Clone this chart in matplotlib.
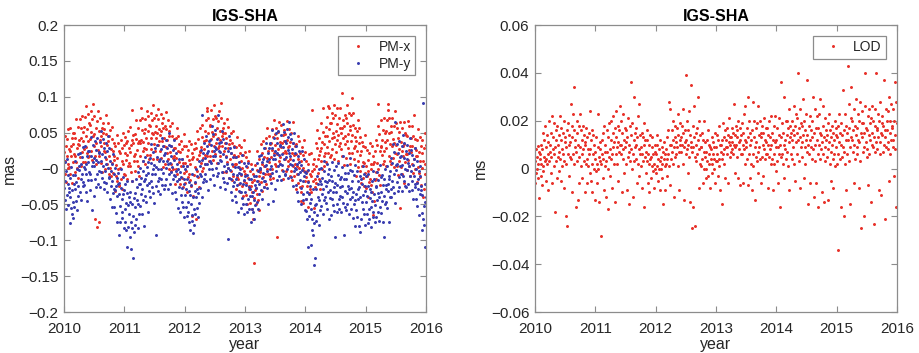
import numpy as np
import matplotlib
matplotlib.use("Agg")
import matplotlib.pyplot as plt
from matplotlib.ticker import FuncFormatter

plt.rcParams["font.family"] = ["Liberation Sans", "DejaVu Sans"]

# 12 samples per month, Jan 2010 .. Dec 2015
# PM-x, PM-y in 0.001 mas
pmx = [
    # 2010
    23, -7, 46, 10, 32, -19, 17, 41, 1, 55, 6, 27,
    2, 25, 56, -7, 31, 17, 42, -20, 34, 49, 9, 20,
    50, -5, 18, 43, 69, 9, 28, 1, 58, 34, -13, 40,
    33, 69, 16, 42, 4, 56, 73, 23, 9, 39, 51, 27,
    58, 9, 72, 45, 30, 87, 22, 55, 76, 39, 16, 64,
    17, 61, 41, 80, 25, 51, 69, 12, 46, 90, 32, 73,
    48, 18, -70, 35, 57, 6, -82, 66, 26, 80, -75, 52,
    17, 40, 71, 8, 46, 32, 57, -5, 49, 64, 24, 35,
    55, 0, 23, 48, 74, 14, 33, 6, 63, 39, -8, 45,
    18, 54, 1, 27, -11, 41, 58, 8, -6, 24, 36, 12,
    18, -31, 32, 5, -10, 47, -18, 15, 36, -1, -24, 24,
    -23, 21, 1, 40, -15, 11, 29, -28, 6, 50, -8, 33,
    # 2011
    21, -9, 44, 12, 35, -15, 19, 38, 3, 52, 8, 29,
    4, 23, 58, -5, 33, 82, 40, -18, 36, 47, 11, 18,
    48, -3, 20, 41, 67, 11, 26, 3, 56, 36, -11, 38,
    35, 67, 18, 40, 84, 54, 71, 25, 11, 37, 49, 29,
    55, 6, 69, 42, 27, 80, 19, 52, 73, 36, 13, 61,
    19, 59, 43, 78, 27, 49, 67, 14, 48, 88, 34, 71,
    51, 25, 74, 42, 60, 13, 49, 69, 33, 83, 38, 55,
    24, 47, 76, 15, 53, 39, 64, 2, 56, 71, 31, 42,
    60, 7, 30, 55, 79, 21, 40, 13, 68, 46, -1, 52,
    23, 59, 6, 32, -4, 46, 63, 15, -1, 29, 41, 17,
    28, -21, 42, 15, 0, 57, -8, 25, 46, 9, -14, 34,
    -21, 23, 3, 38, -13, 13, 27, -26, 8, 48, -6, 31,
    # 2012
    8, -20, 31, -3, 17, -32, 4, 26, -12, 38, -7, 12,
    -16, 7, 34, -25, 13, -66, 22, -38, 16, 27, -9, 2,
    35, -20, -70, 28, 52, -4, 13, -12, 41, 19, -26, 25,
    23, 57, 8, 30, -4, 44, 61, 15, 1, 27, 39, 19,
    53, 6, 67, 40, 85, 80, 17, 50, 71, 34, 11, 59,
    17, 61, 41, 82, 25, 51, 69, 12, 46, 88, 32, 73,
    48, 20, 71, 35, 57, 8, 42, 66, 28, 80, 31, 52,
    17, 40, 71, 92, 46, 32, 57, -5, 49, 64, 24, 35,
    50, -5, 18, 43, 69, 9, 28, 1, 58, 34, -13, 40,
    13, 49, -4, 22, -16, 36, 53, 3, -11, 19, 31, 7,
    16, -28, 30, 7, -12, 44, -15, 17, 33, 2, -22, 21,
    -33, 11, -9, 30, -25, 1, 19, -38, -4, 40, -18, 23,
    # 2013
    -7, -37, 16, -20, 2, -49, -13, 11, -29, 25, -24, -3,
    -48, -25, 6, -57, -19, -33, -8, -70, -16, -132, -41, -30,
    5, -50, -27, -2, 24, -36, -17, -44, 13, -11, -58, -5,
    -2, 34, -19, 7, -31, 21, 38, -12, -26, 4, 16, -8,
    28, -21, 42, 15, 0, 57, -8, 25, 46, 9, -14, 34,
    -8, 36, 16, 55, 0, 26, 44, -13, 21, 68, 7, 48,
    33, 3, 56, 20, 42, -95, 27, 51, 11, 65, 16, 37,
    7, 30, 61, -2, 36, 22, 47, -15, 39, 54, 14, 25,
    48, -3, 21, 40, 66, 11, 30, 3, 55, 32, -10, 37,
    13, 49, -4, 22, -16, 36, 65, 3, -11, 19, 31, 7,
    20, -29, 34, 3, -8, 45, -20, 13, 38, 1, -26, 22,
    -33, 11, -45, 30, -25, 1, 19, -48, -4, 40, -18, 23,
    # 2014
    -12, -42, 11, -25, -3, -54, -18, 6, -34, 20, -29, -8,
    -33, -10, 21, 82, -4, -18, 7, -55, -1, 14, -26, -15,
    35, -20, 3, 28, 54, -6, 13, -14, 43, 19, -28, 25,
    28, 64, 11, 37, -1, 51, 85, 18, 4, 34, 46, 22,
    58, 9, 72, 45, 30, 87, 22, 55, 84, 39, 16, 64,
    19, 63, 43, 78, 27, 49, 71, 14, 44, 88, 34, 75,
    53, 23, 85, 40, 62, 11, 47, 71, 31, 85, 36, 57,
    27, 50, 105, 18, 56, 42, 67, 5, 59, 74, 34, 45,
    70, 15, 38, 63, 89, 29, 48, 21, 78, 54, 7, 60,
    38, 74, 21, 47, 98, 61, 78, 28, 14, 44, 56, 32,
    38, -11, 52, 25, 10, 67, 2, 35, 56, 19, -4, 44,
    -20, 24, 3, 37, -13, 9, 31, -25, 8, 47, -6, 30,
    # 2015
    3, -27, 26, -10, 12, -39, -3, 21, -19, 35, -14, 7,
    -23, 0, 31, -32, 6, -65, 17, -45, 9, 24, -16, -5,
    40, -15, 8, 33, 59, -1, 90, -9, 48, 24, -23, 30,
    31, 67, 19, 40, 6, 54, 71, 25, 11, 37, 49, 29,
    53, 4, 67, 40, 90, 82, 17, 50, 71, 34, 11, 59,
    7, 51, 31, 70, 15, 41, 59, 2, 36, 80, 22, 63,
    33, 3, 56, 20, 42, -9, 27, 51, 11, 65, -55, 37,
    2, 25, 56, -7, 31, 17, 65, -20, 34, 49, 9, 20,
    47, -2, 20, 45, 66, 12, 26, 4, 60, 31, -10, 42,
    23, 59, 6, 32, -6, 46, 75, 13, -1, 29, 41, 17,
    26, -19, 40, 17, 2, 55, -6, 23, 44, 11, -12, 32,
    -23, 21, 1, 40, -40, 11, 29, -28, 6, 50, -8, 33,
]

pmy = [
    # 2010
    -27, 9, -44, -18, -56, -4, 13, -37, -51, -21, -9, -33,
    -27, -76, -13, -40, -55, 2, -63, -30, -9, -46, -69, -21,
    -53, -9, -29, 10, -45, -19, -1, -58, -24, 20, -38, 3,
    -2, -32, 21, -15, 7, -44, -8, 16, -24, 30, -19, 2,
    -23, 0, 31, -32, 6, -8, 17, -45, 9, 24, -16, -5,
    25, -30, -7, 18, 44, -16, 3, -58, 33, 9, -38, 15,
    3, 39, -14, 12, -26, 26, 43, -7, -21, 9, 21, -3,
    23, -26, 37, 10, -5, 52, -13, 20, 41, 4, -19, 29,
    -28, 16, -4, 35, -20, 6, 24, -33, 1, 45, -13, 28,
    -12, -42, 11, -25, -3, -54, -18, 6, -34, 20, -29, -8,
    -53, -30, 1, -62, -24, -38, -13, -75, -21, -6, -92, -35,
    -20, -75, -52, -27, -1, -61, -42, -69, -12, -36, -83, -30,
    # 2011
    -57, -21, -74, -48, -86, -34, -17, -110, -81, -51, -39, -63,
    -47, -96, -33, -112, -75, -18, -83, -50, -125, -66, -89, -41,
    -78, -34, -54, -15, -70, -44, -26, -83, -49, -5, -63, -22,
    -22, -52, 1, -35, -13, -64, -28, -4, -44, 10, -80, -18,
    -38, -15, 16, -47, -9, -23, 2, -60, -6, 9, -31, -20,
    15, -40, -17, 8, 34, -26, -7, -34, 23, -1, -48, 5,
    -7, 29, -24, 2, -92, 16, 33, -17, -31, -1, 11, -13,
    13, -36, 27, 0, -15, 42, -23, 10, 31, -6, -29, 19,
    -23, 21, 1, 40, -15, 11, 29, -28, 6, 50, -8, 33,
    8, -22, 31, -5, 17, -34, 2, 26, -14, 40, -9, 12,
    -33, -10, 21, -42, -4, -18, 7, -55, -1, 14, -26, -15,
    -5, -60, -37, -12, 14, -46, -27, -54, 3, -21, -68, -15,
    # 2012
    -37, -1, -54, -28, -66, -14, 3, -47, -61, -31, -19, -75,
    -37, -86, -23, -50, -65, -8, -73, -40, -90, -56, -79, -31,
    -63, -19, -39, 0, -55, -29, -11, -68, -34, 10, -48, -7,
    3, -27, 26, -10, 12, -39, 75, 21, -19, 35, -14, 7,
    -8, 15, 46, -17, 21, 7, 32, -30, 24, 39, -1, 10,
    40, -15, 8, 33, 59, -1, 18, -9, 48, 24, -23, 30,
    18, 54, 1, 27, -11, 41, 75, 8, -6, 24, 36, 12,
    23, -26, 37, 10, -5, 52, -13, 20, 41, 4, -19, 29,
    -28, 16, -4, 35, -20, 6, 24, -98, 1, 45, -13, 28,
    -2, -32, 21, -15, 7, -44, -8, 16, -24, 30, -19, 2,
    -38, -15, 16, -47, -9, -23, 2, -60, -6, 9, -31, -20,
    0, -55, -32, -7, 19, -41, -22, -49, 8, -16, -63, -10,
    # 2013
    -32, 4, -49, -23, -61, -9, 8, -42, -56, -26, -14, -38,
    -29, -74, -15, -38, -57, 0, -61, -32, -11, -44, -71, -23,
    -51, -11, -27, 8, -47, -17, -3, -56, -22, 18, -36, 1,
    0, -30, 19, -13, 9, -42, -6, 14, -26, 28, -17, 4,
    -18, 5, 36, -27, 11, -3, 22, -50, 14, 29, -11, 0,
    35, -20, 3, 28, 54, -6, 13, -45, 43, 19, -28, 25,
    13, 49, -4, 22, -16, 36, 53, 3, -11, 19, 31, 7,
    33, -16, 47, 20, 5, 62, -3, 30, 51, 14, -9, 39,
    -8, 36, 16, 55, 0, 26, 44, -13, 21, 65, 7, 48,
    18, -12, 41, 5, 27, -24, 12, 36, -4, 50, 1, 22,
    -23, 0, 31, -32, 6, -8, 17, -45, 9, 24, -16, -5,
    5, -50, -27, -2, 24, -36, -17, -44, 13, -11, -58, -5,
    # 2014
    -42, -6, -59, -33, -71, -19, -2, -110, -66, -36, -24, -48,
    -57, -106, -43, -70, -85, -28, -93, -60, -135, -76, -125, -51,
    -73, -29, -49, -10, -65, -39, -21, -78, -44, 0, -58, -17,
    -22, -52, 1, -35, -13, -64, -28, -4, -44, 10, -39, -18,
    -48, -25, 6, -57, -19, -33, -8, -70, -16, -1, -41, -30,
    -10, -65, -42, -17, 9, -51, -32, -59, -2, -26, -95, -20,
    -32, 4, -49, -23, -61, -9, 8, -42, -56, -26, -14, -38,
    -12, -61, 2, -25, -40, 17, -48, -15, -92, -31, -54, -6,
    -58, -14, -34, 5, -50, -24, -6, -63, -29, 15, -43, -2,
    -27, -57, -4, -40, -18, -69, -33, -9, -49, 5, -44, -80,
    -58, -35, -4, -67, -29, -43, -18, -80, -26, -11, -88, -40,
    -15, -70, -47, -22, 4, -56, -37, -64, -7, -31, -78, -25,
    # 2015
    -47, -11, -64, -38, -76, -24, -7, -57, -71, -41, -29, -53,
    -32, -81, -18, -45, -60, -3, -68, -35, -14, -51, -74, -26,
    -68, -24, -44, -5, -60, -34, -16, -73, -39, 5, -53, -12,
    -32, -62, -9, -45, -23, -74, -38, -14, -95, 0, -49, -28,
    -46, -23, 4, -55, -21, -31, -10, -75, -14, -3, -39, -28,
    15, -40, -17, 8, 34, -26, -7, -34, 23, 65, -48, 5,
    -2, 34, -19, 7, -31, 21, 38, -12, -26, 4, 16, -8,
    18, -31, 32, 5, -10, 47, -18, 15, 36, -1, -24, 24,
    -26, 14, -2, 33, -22, 8, 22, -31, 3, 42, -11, 26,
    -4, -30, 19, -17, 5, -42, -10, 14, -26, 28, -21, 0,
    -43, -20, 11, -52, -14, -28, -3, -65, -11, 4, -36, -25,
    -30, -85, -62, -37, 92, -71, -52, -79, -22, -46, -110, -40,
]

# LOD in 0.0001 ms
lod = [
    # 2010
    30, -60, 80, -20, 50, 0, 95, -40, 20, 70, -125, 40,
    60, -30, 100, 20, -70, 80, 10, 150, -10, 50, 120, 30,
    180, 40, -50, 90, 20, 140, 60, -90, 110, 30, 200, 70,
    100, -20, 150, 50, 220, -60, 80, 130, 10, 190, 60, -180,
    90, 160, 30, 120, -40, 180, 50, 100, -10, 140, 70, 220,
    40, 120, -50, 170, 80, 10, 150, 60, -80, 200, 30, 110,
    130, -200, 90, 20, 160, -240, 60, 190, 100, -30, 140, 50,
    110, 270, 40, 180, -100, 130, 60, 230, 20, 160, 340, 90,
    120, -160, 70, 200, 30, 150, -130, 100, 180, 50, -60, 230,
    90, 10, 160, 60, 120, -40, 180, 80, 30, 140, -100, 100,
    110, 20, 170, 40, -60, 130, 80, 10, 150, 60, 240, -20,
    80, -50, 120, 20, 160, -100, 60, 140, 0, 100, -130, 40,
    # 2011
    70, -10, 130, 20, -60, 90, 230, 0, 50, -140, 110, 30,
    80, -280, 20, 120, 60, -40, 150, 40, 180, -90, 70, 10,
    100, 30, -120, 160, 70, 0, 130, -170, 50, 190, 80, -30,
    120, 40, 200, 60, -80, 150, 90, 220, 20, 110, -140, 170,
    130, 60, 240, 90, 20, 180, 110, -50, 160, 70, 260, 100,
    60, 200, 100, -100, 150, 40, 230, 80, 120, -20, 170, 90,
    110, 20, 160, -90, 130, 50, 210, 70, -150, 100, 180, 30,
    360, 80, 140, 0, 190, 60, -120, 120, 30, 300, 90, 150,
    100, 40, 170, -60, 130, 20, 220, 80, -30, 270, 60, 140,
    90, 10, 150, 60, -80, 130, 30, 190, -160, 100, 50, 120,
    70, -20, 120, 30, 160, -60, 60, 20, 100, -100, 40, 140,
    50, -40, 90, 10, 130, -10, 60, -80, 20, 100, 0, 70,
    # 2012
    60, -20, 100, 10, 140, -50, 40, 80, 0, 120, -90, 30,
    50, 0, 90, -40, 20, 70, -150, 40, 110, 10, -90, 60,
    80, 20, 130, 40, -30, 160, 60, 280, 10, 100, -70, 250,
    100, 40, 160, 70, 200, 20, 120, -120, 90, 180, 50, 130,
    110, 60, 170, 90, 10, 140, 230, 70, -90, 120, 190, 100,
    130, 70, 180, 100, 20, 150, 250, 90, -130, 160, 110, 390,
    120, 60, 200, 80, -20, 160, 100, 240, 50, 140, -140, 90,
    110, 350, -250, 70, 180, 90, -160, 130, 260, 50, -240, 150,
    100, 30, 170, 60, 300, 120, -80, 80, 200, 20, 140, 90,
    90, 10, 150, 40, -60, 120, 70, 200, 0, 110, 50, -40,
    70, 0, 120, 30, 160, -30, 60, 100, 20, -80, 90, 40,
    80, 20, 130, -20, 60, 110, 0, 90, 40, -60, 150, 30,
    # 2013
    90, 30, 140, 60, -30, 120, 40, 180, 10, 100, -90, 70,
    100, 40, -150, 120, 60, 190, 20, 130, 80, -40, 160, 90,
    120, 60, 170, 90, 140, -60, 110, 210, 50, 130, 100, 70,
    130, 80, 170, 110, 60, 150, 270, 100, -20, 140, 90, 180,
    100, 160, 50, 130, -40, 200, 110, 80, 170, -70, 120, 60,
    140, 60, 190, 100, -60, 150, 80, 230, 20, 120, 260, 90,
    110, 40, 170, -70, 130, 300, 60, 200, -40, 100, 150, 20,
    120, -90, 160, 60, 280, 10, 130, 200, -130, 90, 170, 50,
    110, 30, 190, 70, 260, -20, 140, 90, 200, 40, -60, 150,
    130, 50, 180, 100, -30, 150, 80, 210, 40, 120, 170, 60,
    110, 170, 60, 140, -80, 100, 200, 50, 130, 80, 220, 20,
    100, 40, 150, -90, 120, 60, 180, 20, 110, 220, -10, 90,
    # 2014
    120, 30, 170, -60, 90, 210, 60, 140, -160, 100, 360, 50,
    130, 60, 190, 20, 150, 100, 300, -40, 120, 80, 200, 40,
    140, 70, 200, 10, 170, 110, 250, -90, 130, 180, 60, 150,
    120, 200, 40, 160, 90, 260, 20, 140, -50, 180, 110, 230,
    150, 60, 210, 120, 400, 30, 170, -80, 130, 250, 90, 190,
    110, 180, 50, 290, 140, -40, 200, 90, 160, 20, 230, 120,
    140, 70, 370, 100, -150, 180, 60, 220, 120, -60, 160, 90,
    130, 40, 200, 80, 300, -120, 150, 100, 250, 30, 170, -60,
    120, 220, 60, 170, -160, 100, 230, 40, 150, 290, 80, 140,
    110, -100, 180, 60, 260, 130, -140, 90, 210, 30, 160, 120,
    140, 50, 190, 80, -130, 110, 230, 20, 160, 70, -50, 130,
    100, 180, 40, 150, -80, 120, 60, 200, 10, 140, 90, 170,
    # 2015
    130, 20, 180, 60, -340, 110, 230, 40, 150, -160, 100, 190,
    140, 50, 330, 90, -200, 160, 70, 230, 20, 120, -90, 180,
    150, 60, 430, 120, 270, 30, 170, 90, -150, 210, 130, 340,
    120, 200, 70, 160, -60, 250, 100, 180, 40, 290, 140, 90,
    170, 60, 230, 120, -80, 200, 110, 280, 30, 150, -250, 190,
    130, 240, 70, 190, -200, 150, 90, 260, 400, 110, 170, 50,
    160, 80, 220, -70, 140, 250, 60, 190, 120, -140, 210, 100,
    150, 260, 90, 200, -230, 130, 180, 70, 250, 110, 400, 160,
    170, 80, 230, 130, -90, 200, 110, 280, 60, 150, -110, 190,
    140, 220, 70, 180, 370, 100, 160, -210, 130, 250, 90, 200,
    160, 80, 240, 110, 300, -50, 150, 200, 60, 270, 120, 180,
    170, 90, 250, 120, -30, 200, 140, 360, 80, 280, -160, 190,
]

RED = "#e8312a"
BLUE = "#3a3db0"
GRID = "#8c8c8c"
TXT = "#262626"


def years(vals):
    n = len(vals)
    return 2010 + (np.arange(n) + 0.5) * 6.0 / n


def fmt(v, pos):
    s = "%g" % round(v, 4)
    return s.replace("-", "\u2212")


def style(ax, ylim, yticks):
    ax.set_xlim(2010, 2016)
    ax.set_ylim(*ylim)
    ax.set_xticks(range(2010, 2017))
    ax.set_yticks(yticks)
    ax.yaxis.set_major_formatter(FuncFormatter(fmt))
    ax.tick_params(direction="in", top=True, right=True, length=4,
                   color=GRID, labelcolor=TXT, labelsize=11, width=0.8)
    ax.tick_params(axis="y", pad=4)
    ax.tick_params(axis="x", pad=7)
    for s in ax.spines.values():
        s.set_color(GRID)
        s.set_linewidth(0.9)
    ax.set_xlabel("year", fontsize=11.5, color=TXT, labelpad=1)
    ax.set_title("IGS-SHA", fontsize=11.5, fontweight="bold", pad=3)


fig = plt.figure(figsize=(9.19, 3.53), dpi=100)
ax1 = fig.add_axes([0.0696, 0.116, 0.394, 0.813])
ax2 = fig.add_axes([0.582, 0.116, 0.394, 0.813])

ax1.plot(years(pmx), np.array(pmx) / 1000.0, ".", ms=2.3, color=RED,
         label="PM-x")
ax1.plot(years(pmy), np.array(pmy) / 1000.0, ".", ms=2.3, color=BLUE,
         label="PM-y")
style(ax1, (-0.2, 0.2), np.arange(-0.2, 0.201, 0.05))
ax1.set_ylabel("mas", fontsize=11.5, color=TXT, labelpad=2)

ax2.plot(years(lod), np.array(lod) / 10000.0, ".", ms=2.3, color=RED,
         label="LOD")
style(ax2, (-0.06, 0.06), np.arange(-0.06, 0.0601, 0.02))
ax2.set_ylabel("ms", fontsize=11.5, color=TXT, labelpad=2)

for ax in (ax1, ax2):
    leg = ax.legend(loc="upper right", fontsize=10, fancybox=False,
                    framealpha=1, edgecolor=GRID, handlelength=2.3,
                    borderaxespad=0.8, markerscale=1.0, handletextpad=0.3,
                    borderpad=0.3, labelspacing=0.2)
    leg.get_frame().set_linewidth(0.9)
    for t in leg.get_texts():
        t.set_color(TXT)

fig.savefig("out.png", dpi=100, facecolor="white")
